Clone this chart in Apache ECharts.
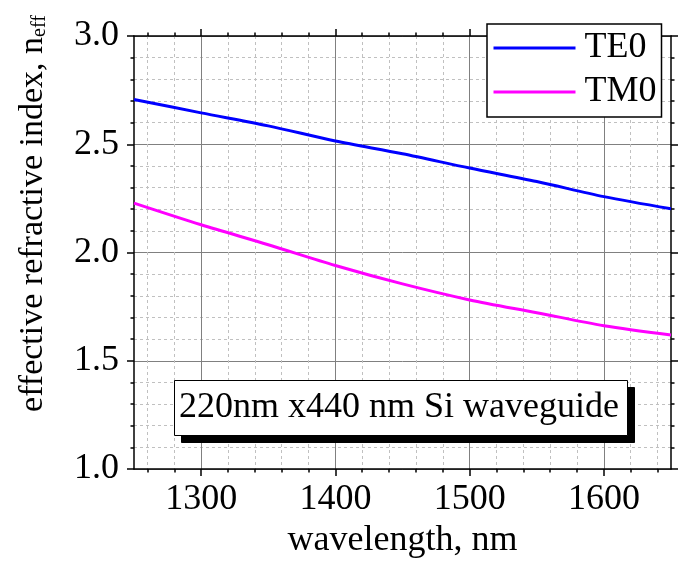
<!DOCTYPE html>
<html>
<head>
<meta charset="utf-8">
<script src="https://cdn.jsdelivr.net/npm/echarts@6/dist/echarts.min.js"></script>
<style>
html,body{margin:0;padding:0;background:#fff;}
#chart{width:697px;height:565px;}
</style>
</head>
<body>
<div id="chart"></div>
<script>
// ---- data ----
var wavelengths = [1250, 1300, 1350, 1400, 1450, 1500, 1550, 1600, 1650];
var te0 = [2.707, 2.645, 2.585, 2.515, 2.456, 2.390, 2.328, 2.258, 2.202];
var tm0 = [2.228, 2.128, 2.036, 1.940, 1.855, 1.781, 1.722, 1.662, 1.619];
var xTicks = [1300, 1400, 1500, 1600];
var seriesNames = ['TE0', 'TM0'];
var annotation = '220nm x440 nm Si waveguide';
var xTitle = 'wavelength, nm';
var yTitleMain = 'effective refractive index, n';
var yTitleSub = 'eff';

function zip(xs, ys) { return xs.map(function (x, i) { return [x, ys[i]]; }); }

var FONT = '"Liberation Serif", "Times New Roman", serif';
var black = '#000';

function xAx(pos, primary) {
  return {
    type: 'value', position: pos, min: 1250, max: 1650, splitNumber: 4,
    axisLine: { show: true, onZero: false, lineStyle: { color: black, width: 1.5 } },
    axisTick: { show: true, length: 7, customValues: xTicks, lineStyle: { color: black, width: 1.5 } },
    minorTick: { show: true, splitNumber: 5, length: 3.5, lineStyle: { color: black, width: 1.5 } },
    axisLabel: primary ? { show: true, customValues: xTicks, margin: 13, fontSize: 36, fontFamily: FONT, color: black,
      formatter: function (v) { return String(v); } } : { show: false },
    splitLine: { show: primary, lineStyle: { color: '#808080', width: 1 } },
    minorSplitLine: { show: primary, lineStyle: { color: '#c0c0c0', width: 1, type: [3, 3] } },
    name: primary ? xTitle : '',
    nameLocation: 'middle', nameGap: 54,
    nameTextStyle: { fontSize: 36, fontFamily: FONT, color: black }
  };
}
function yAx(pos, primary) {
  return {
    type: 'value', position: pos, min: 1, max: 3, interval: 0.5,
    axisLine: { show: true, onZero: false, lineStyle: { color: black, width: 1.5 } },
    axisTick: { show: true, length: 7, lineStyle: { color: black, width: 1.5 } },
    minorTick: { show: true, splitNumber: 5, length: 3.5, lineStyle: { color: black, width: 1.5 } },
    axisLabel: primary ? { show: true, margin: 15, fontSize: 36, fontFamily: FONT, color: black,
      formatter: function (v) { return v.toFixed(1); } } : { show: false },
    splitLine: { show: primary, lineStyle: { color: '#808080', width: 1 } },
    minorSplitLine: { show: primary, lineStyle: { color: '#c0c0c0', width: 1, type: [3, 3] } },
    name: primary ? '{m|' + yTitleMain + '}{s|' + yTitleSub + '}' : '',
    nameLocation: 'middle', nameGap: 84, nameRotate: 90,
    nameTextStyle: {
      fontFamily: FONT, color: black, padding: [0, 0, 0, 78],
      rich: {
        m: { fontSize: 34, lineHeight: 34, fontFamily: FONT, color: black },
        s: { fontSize: 20, lineHeight: 13, verticalAlign: 'bottom', fontFamily: FONT, color: black }
      }
    }
  };
}

var chart = echarts.init(document.getElementById('chart'), null, { renderer: 'canvas' });
chart.setOption({
  backgroundColor: '#fff',
  animation: false,
  textStyle: { fontFamily: FONT },
  grid: { left: 134, right: 26, top: 36, bottom: 96, containLabel: false },
  title: [
    { // drop shadow of annotation box
      text: annotation, left: 181, top: 387, z: 6,
      padding: [10, 9, 10, 5],
      backgroundColor: black, borderColor: black, borderWidth: 1,
      textStyle: { fontSize: 36, fontFamily: FONT, fontWeight: 'normal', color: black }
    },
    {
      text: annotation, left: 174, top: 380, z: 7,
      padding: [10, 9, 10, 5],
      backgroundColor: '#fff', borderColor: black, borderWidth: 1,
      textStyle: { fontSize: 36, fontFamily: FONT, fontWeight: 'normal', color: black }
    }
  ],
  legend: {
    orient: 'vertical', left: 487, top: 24,
    padding: [6, 5, 7, 5], itemGap: 8,
    itemWidth: 82, itemHeight: 14,
    backgroundColor: '#fff', borderColor: black, borderWidth: 1.5, borderRadius: 0,
    itemStyle: { opacity: 0 },
    lineStyle: { width: 3 },
    textStyle: { fontSize: 36, fontFamily: FONT, color: black, padding: [0, 0, 0, 4] },
    data: seriesNames
  },
  xAxis: [xAx('bottom', true), xAx('top', false)],
  yAxis: [yAx('left', true), yAx('right', false)],
  series: [
    { name: seriesNames[0], type: 'line', data: zip(wavelengths, te0), showSymbol: false, symbol: 'none',
      smooth: 0.3, lineStyle: { color: '#0000ff', width: 3 }, itemStyle: { color: '#0000ff' } },
    { name: seriesNames[1], type: 'line', data: zip(wavelengths, tm0), showSymbol: false, symbol: 'none',
      smooth: 0.3, lineStyle: { color: '#ff00ff', width: 3 }, itemStyle: { color: '#ff00ff' } }
  ]
});
</script>
</body>
</html>
